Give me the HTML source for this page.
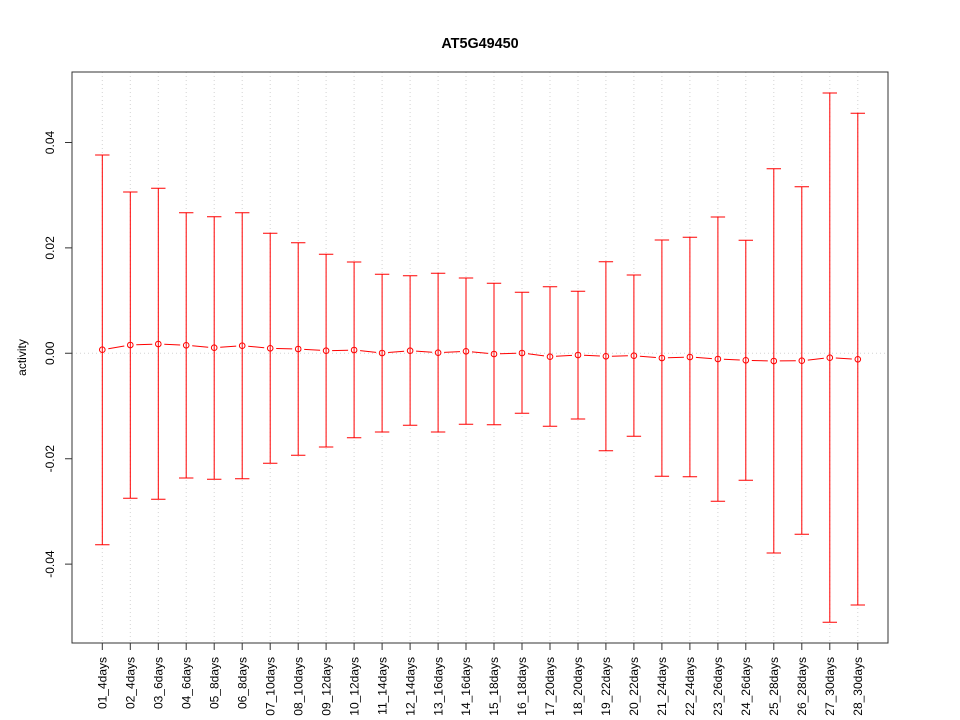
<!DOCTYPE html>
<html>
<head>
<meta charset="utf-8">
<style>
html,body{margin:0;padding:0;background:#fff;}
svg{display:block;}
text{font-family:"Liberation Sans",Arial,sans-serif;fill:#000;}
</style>
</head>
<body>
<svg width="960" height="720" viewBox="0 0 960 720" xmlns="http://www.w3.org/2000/svg">
<rect x="0" y="0" width="960" height="720" fill="#fff"/>
<!-- grid -->
<g stroke="#d3d3d3" stroke-width="1" stroke-dasharray="1 3" fill="none">
<path d="M102.3 72V643M130.3 72V643M158.3 72V643M186.2 72V643M214.2 72V643M242.2 72V643M270.2 72V643M298.2 72V643M326.1 72V643M354.1 72V643M382.1 72V643M410.1 72V643M438.1 72V643M466 72V643M494 72V643M522 72V643M550 72V643M578 72V643M605.9 72V643M633.9 72V643M661.9 72V643M689.9 72V643M717.9 72V643M745.8 72V643M773.8 72V643M801.8 72V643M829.8 72V643M857.8 72V643"/>
<path d="M72 353.3H888"/>
</g>
<!-- error bars -->
<g stroke="#ff0000" stroke-width="1" fill="none">
<path d="M102.3 155V544.7M95.1 155h14.4M95.1 544.7h14.4
M130.3 192V498.3M123.1 192h14.4M123.1 498.3h14.4
M158.3 188.3V499.3M151.1 188.3h14.4M151.1 499.3h14.4
M186.2 212.7V478M179 212.7h14.4M179 478h14.4
M214.2 216.7V479.3M207 216.7h14.4M207 479.3h14.4
M242.2 212.7V478.7M235 212.7h14.4M235 478.7h14.4
M270.2 233.3V463.3M263 233.3h14.4M263 463.3h14.4
M298.2 242.7V455.3M291 242.7h14.4M291 455.3h14.4
M326.1 254.3V447M318.9 254.3h14.4M318.9 447h14.4
M354.1 262V437.7M346.9 262h14.4M346.9 437.7h14.4
M382.1 274.3V432M374.9 274.3h14.4M374.9 432h14.4
M410.1 275.7V425.3M402.9 275.7h14.4M402.9 425.3h14.4
M438.1 273.3V432M430.9 273.3h14.4M430.9 432h14.4
M466 278V424.3M458.8 278h14.4M458.8 424.3h14.4
M494 283.3V424.7M486.8 283.3h14.4M486.8 424.7h14.4
M522 292.3V413.3M514.8 292.3h14.4M514.8 413.3h14.4
M550 286.7V426.3M542.8 286.7h14.4M542.8 426.3h14.4
M578 291.3V419M570.8 291.3h14.4M570.8 419h14.4
M605.9 261.7V450.7M598.7 261.7h14.4M598.7 450.7h14.4
M633.9 275V436.3M626.7 275h14.4M626.7 436.3h14.4
M661.9 240V476.3M654.7 240h14.4M654.7 476.3h14.4
M689.9 237.3V476.7M682.7 237.3h14.4M682.7 476.7h14.4
M717.9 217V501.3M710.7 217h14.4M710.7 501.3h14.4
M745.8 240.3V480.3M738.6 240.3h14.4M738.6 480.3h14.4
M773.8 168.7V553M766.6 168.7h14.4M766.6 553h14.4
M801.8 186.7V534.3M794.6 186.7h14.4M794.6 534.3h14.4
M829.8 93V622.3M822.6 93h14.4M822.6 622.3h14.4
M857.8 113.3V605M850.6 113.3h14.4M850.6 605h14.4"/>
<!-- connecting line segments -->
<path d="M108.3 348.7L124.3 346.0M136.3 344.8L152.3 344.2M164.3 344.3L180.2 345.0M192.2 345.8L208.2 347.2M220.2 347.3L236.2 346.1M248.2 346.3L264.2 347.7M276.2 348.5L292.2 348.9M304.2 349.4L320.1 350.3M332.1 350.6L348.1 350.2M360.1 350.6L376.1 352.4M388.1 352.5L404.1 351.2M416.1 351.1L432.1 352.3M444.1 352.4L460 351.6M472 351.9L488 353.4M500 353.8L516 353.2M528 353.8L544 355.9M556 356.3L572 355.4M584 355.3L599.9 356.0M611.9 356.2L627.9 355.8M639.9 356.2L655.9 357.5M667.9 357.8L683.9 357.2M695.9 357.4L711.9 358.6M723.9 359.3L739.8 360.0M751.8 360.5L767.8 360.9M779.8 360.9L795.8 360.8M807.8 360.1L823.8 358.3M835.8 358.0L851.8 359.0"/>
<!-- points -->
<circle cx="102.3" cy="349.7" r="2.8"/>
<circle cx="130.3" cy="345" r="2.8"/>
<circle cx="158.3" cy="344" r="2.8"/>
<circle cx="186.2" cy="345.3" r="2.8"/>
<circle cx="214.2" cy="347.7" r="2.8"/>
<circle cx="242.2" cy="345.7" r="2.8"/>
<circle cx="270.2" cy="348.3" r="2.8"/>
<circle cx="298.2" cy="349" r="2.8"/>
<circle cx="326.1" cy="350.7" r="2.8"/>
<circle cx="354.1" cy="350" r="2.8"/>
<circle cx="382.1" cy="353" r="2.8"/>
<circle cx="410.1" cy="350.7" r="2.8"/>
<circle cx="438.1" cy="352.7" r="2.8"/>
<circle cx="466" cy="351.3" r="2.8"/>
<circle cx="494" cy="354" r="2.8"/>
<circle cx="522" cy="353" r="2.8"/>
<circle cx="550" cy="356.7" r="2.8"/>
<circle cx="578" cy="355" r="2.8"/>
<circle cx="605.9" cy="356.3" r="2.8"/>
<circle cx="633.9" cy="355.7" r="2.8"/>
<circle cx="661.9" cy="358" r="2.8"/>
<circle cx="689.9" cy="357" r="2.8"/>
<circle cx="717.9" cy="359" r="2.8"/>
<circle cx="745.8" cy="360.3" r="2.8"/>
<circle cx="773.8" cy="361" r="2.8"/>
<circle cx="801.8" cy="360.7" r="2.8"/>
<circle cx="829.8" cy="357.7" r="2.8"/>
<circle cx="857.8" cy="359.3" r="2.8"/>
</g>
<!-- frame and ticks -->
<g stroke="#333" stroke-width="1" fill="none">
<rect x="72" y="72" width="816" height="571"/>
<path d="M65 142.5H72M65 247.9H72M65 353.3H72M65 458.7H72M65 564.1H72"/>
<path d="M102.3 643V650M130.3 643V650M158.3 643V650M186.2 643V650M214.2 643V650M242.2 643V650M270.2 643V650M298.2 643V650M326.1 643V650M354.1 643V650M382.1 643V650M410.1 643V650M438.1 643V650M466 643V650M494 643V650M522 643V650M550 643V650M578 643V650M605.9 643V650M633.9 643V650M661.9 643V650M689.9 643V650M717.9 643V650M745.8 643V650M773.8 643V650M801.8 643V650M829.8 643V650M857.8 643V650"/>
</g>
<!-- title -->
<text x="480" y="48" text-anchor="middle" font-size="14.4" font-weight="bold">AT5G49450</text>
<!-- y axis labels -->
<g font-size="12" text-anchor="middle">
<text x="54" y="142.5" transform="rotate(-90 54 142.5)">0.04</text>
<text x="54" y="247.9" transform="rotate(-90 54 247.9)">0.02</text>
<text x="54" y="353.3" transform="rotate(-90 54 353.3)">0.00</text>
<text x="54" y="458.7" transform="rotate(-90 54 458.7)">-0.02</text>
<text x="54" y="564.1" transform="rotate(-90 54 564.1)">-0.04</text>
<text x="26" y="357.5" transform="rotate(-90 26 357.5)">activity</text>
</g>
<!-- x axis labels -->
<g font-size="12" text-anchor="end">
<text x="106.5" y="657" transform="rotate(-90 106.5 657)">01_4days</text>
<text x="134.5" y="657" transform="rotate(-90 134.5 657)">02_4days</text>
<text x="162.5" y="657" transform="rotate(-90 162.5 657)">03_6days</text>
<text x="190.4" y="657" transform="rotate(-90 190.4 657)">04_6days</text>
<text x="218.4" y="657" transform="rotate(-90 218.4 657)">05_8days</text>
<text x="246.4" y="657" transform="rotate(-90 246.4 657)">06_8days</text>
<text x="274.4" y="657" transform="rotate(-90 274.4 657)">07_10days</text>
<text x="302.4" y="657" transform="rotate(-90 302.4 657)">08_10days</text>
<text x="330.3" y="657" transform="rotate(-90 330.3 657)">09_12days</text>
<text x="358.3" y="657" transform="rotate(-90 358.3 657)">10_12days</text>
<text x="386.3" y="657" transform="rotate(-90 386.3 657)">11_14days</text>
<text x="414.3" y="657" transform="rotate(-90 414.3 657)">12_14days</text>
<text x="442.3" y="657" transform="rotate(-90 442.3 657)">13_16days</text>
<text x="470.2" y="657" transform="rotate(-90 470.2 657)">14_16days</text>
<text x="498.2" y="657" transform="rotate(-90 498.2 657)">15_18days</text>
<text x="526.2" y="657" transform="rotate(-90 526.2 657)">16_18days</text>
<text x="554.2" y="657" transform="rotate(-90 554.2 657)">17_20days</text>
<text x="582.2" y="657" transform="rotate(-90 582.2 657)">18_20days</text>
<text x="610.1" y="657" transform="rotate(-90 610.1 657)">19_22days</text>
<text x="638.1" y="657" transform="rotate(-90 638.1 657)">20_22days</text>
<text x="666.1" y="657" transform="rotate(-90 666.1 657)">21_24days</text>
<text x="694.1" y="657" transform="rotate(-90 694.1 657)">22_24days</text>
<text x="722.1" y="657" transform="rotate(-90 722.1 657)">23_26days</text>
<text x="750" y="657" transform="rotate(-90 750 657)">24_26days</text>
<text x="778" y="657" transform="rotate(-90 778 657)">25_28days</text>
<text x="806" y="657" transform="rotate(-90 806 657)">26_28days</text>
<text x="834" y="657" transform="rotate(-90 834 657)">27_30days</text>
<text x="862" y="657" transform="rotate(-90 862 657)">28_30days</text>
</g>
</svg>
</body>
</html>
